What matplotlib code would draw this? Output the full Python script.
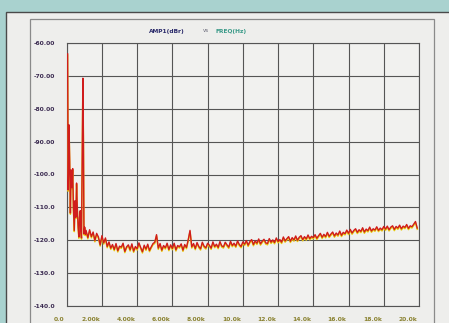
import numpy as np
import matplotlib
matplotlib.use("Agg")
import matplotlib.pyplot as plt
import matplotlib.transforms as mtransforms
from matplotlib.patches import Rectangle

# ---- data ----
# low-frequency part (kHz, dBr)
freq_low = [0.05, 0.065, 0.08, 0.10, 0.13, 0.17, 0.21, 0.25, 0.30, 0.34, 0.38,
            0.43, 0.47, 0.52, 0.56, 0.60, 0.65, 0.69, 0.73, 0.77, 0.80, 0.84,
            0.88, 0.92, 0.95, 0.98, 1.02, 1.06]
amp_low = [-63.3, -80.0, -104.7, -100.0, -84.9, -96.0, -111.7, -98.6, -104.0,
           -98.2, -110.0, -117.0, -108.0, -113.0, -102.6, -110.0, -116.0,
           -119.0, -113.0, -111.0, -117.0, -119.3, -95.0, -70.7, -90.0,
           -118.0, -116.0, -118.2]
# noise floor, sampled every 0.1 kHz starting at 1.1 kHz
amp_floor = [
    # 1.1 - 2.5 k
    -117.0, -119.2, -116.8, -118.9, -117.5, -120.1, -117.9, -119.0, -121.4, -118.6,
    -120.8, -119.3, -121.9, -120.5, -122.4,
    # 2.6 - 5.0 k
    -121.3, -122.8, -121.0, -123.2, -121.8, -122.1, -120.9, -123.4, -122.0, -121.4,
    -122.9, -121.1, -123.3, -121.9, -122.6, -120.8, -122.2, -123.5, -121.5, -122.7,
    -121.2, -123.1, -122.0, -121.0, -120.6,
    # 5.1 - 7.1 k
    -118.3, -122.4, -121.0, -123.0, -121.6, -122.3, -120.9, -122.8, -121.4, -122.5,
    -120.9, -122.9, -121.6, -122.0, -121.1, -123.0, -121.3, -122.2, -119.8, -117.0,
    -122.0,
    # 7.2 - 10.0 k
    -121.0, -122.5, -120.7, -121.9, -122.6, -120.6, -121.8, -122.3, -120.9, -121.5,
    -122.4, -120.5, -121.9, -121.2, -122.2, -120.4, -121.7, -122.0, -120.6, -121.4,
    -122.1, -120.3, -121.6, -120.9, -121.8, -120.2, -121.3, -121.9, -120.5,
    # 10.1 - 12.0 k
    -121.2, -120.1, -121.5, -120.4, -119.8, -121.3, -120.2, -120.9, -119.6, -121.1,
    -120.3, -119.7, -120.8, -121.0, -119.5, -120.6, -119.9, -120.7, -119.3, -120.4,
    # 12.1 - 14.0 k
    -119.8, -120.6, -119.0, -120.2, -119.5, -118.9, -120.3, -119.2, -119.9, -118.7,
    -120.0, -119.1, -118.6, -119.8, -118.9, -119.6, -118.4, -119.5, -118.8, -119.2,
    # 14.1 - 16.0 k
    -118.3, -119.4, -118.6, -117.9, -119.1, -118.2, -118.9, -117.6, -118.8, -118.1,
    -117.5, -118.7, -117.8, -118.4, -117.2, -118.5, -117.6, -118.0, -116.9, -117.9,
    # 16.1 - 18.0 k
    -116.7, -117.8, -117.0, -116.5, -117.6, -116.8, -117.3, -116.2, -117.5, -116.6,
    -117.1, -116.0, -117.2, -116.5, -116.9, -115.9, -117.0, -116.3, -116.8, -115.8,
    # 18.1 - 19.9 k
    -116.6, -115.7, -116.8, -116.0, -115.6, -116.7, -115.8, -116.3, -115.4, -116.5,
    -115.7, -116.1, -115.2, -116.4, -115.6, -115.9, -115.1, -114.3, -116.3,
]
freq_floor = list(np.round(1.1 + 0.1 * np.arange(len(amp_floor)), 2))

freq = np.array(freq_low + freq_floor)
amp = np.array(amp_low + amp_floor)

x_ticks = [0, 2, 4, 6, 8, 10, 12, 14, 16, 18, 20]
x_labels = ["0.0", "2.00k", "4.00k", "6.00k", "8.00k", "10.0k", "12.0k",
            "14.0k", "16.0k", "18.0k", "20.0k"]
y_ticks = [-60, -70, -80, -90, -100, -110, -120, -130, -140]
y_labels = ["-60.00", "-70.00", "-80.00", "-90.00", "-100.0", "-110.0",
            "-120.0", "-130.0", "-140.0"]

# ---- figure ----
W, H = 449, 323
fig = plt.figure(figsize=(W / 100, H / 100), dpi=100)
fig.patch.set_facecolor("#a9d2cf")

def fx(px):
    return px / W

def fy(py):
    return 1 - py / H

# outer light panel
fig.patches.append(Rectangle((fx(6), -0.05), 1.1, fy(12) + 0.05,
                             transform=fig.transFigure, facecolor="#eeeeec",
                             edgecolor="#4a4a4a", linewidth=1.0, zorder=-2))
# inner frame
fig.patches.append(Rectangle((fx(30), -0.05), fx(434) - fx(30), fy(19) + 0.05,
                             transform=fig.transFigure, facecolor="none",
                             edgecolor="#8a8a8a", linewidth=0.9, zorder=-1))

ax = fig.add_axes([fx(66.7), fy(306), fx(419) - fx(66.7), (306 - 43) / H])
ax.set_zorder(5)
ax.set_facecolor("#f1f1ef")
ax.set_xlim(0, 20)
ax.set_ylim(-140, -60)

ax.set_xticks(x_ticks)
ax.set_yticks(y_ticks)
ax.grid(True, color="#555555", linewidth=0.8)
ax.set_axisbelow(True)
for s in ax.spines.values():
    s.set_color("#555555")
    s.set_linewidth(0.8)
ax.tick_params(length=0)

ax.set_yticklabels(y_labels, fontsize=4.3, color="#3a2a50", fontweight="bold",
                   ha="left")
ax.tick_params(axis="y", pad=24)
ax.set_xticklabels(x_labels, fontsize=4.3, color="#8a8230", fontweight="bold",
                   ha="right")
ax.tick_params(axis="x", pad=8)
off = mtransforms.ScaledTranslation(-2 / 100, 0, fig.dpi_scale_trans)
for lab in ax.get_xticklabels():
    lab.set_transform(lab.get_transform() + off)

# yellow shadow trace, then red trace
shadow = ax.transData + mtransforms.ScaledTranslation(0.0, -1.2 / 100,
                                                      fig.dpi_scale_trans)
ax.plot(freq, amp, color="#e8cc10", linewidth=1.1, transform=shadow, zorder=3)
ax.plot(freq, amp, color="#d01c1c", linewidth=1.0, zorder=4)

# title texts
fig.text(fx(167), fy(31), "AMP1(dBr)", fontsize=4.2, color="#2a2a6a",
         fontweight="bold", ha="center", va="center")
fig.text(fx(206), fy(31), "vs", fontsize=4.0, color="#666677",
         ha="center", va="center")
fig.text(fx(231), fy(31), "FREQ(Hz)", fontsize=4.2, color="#3a9a88",
         fontweight="bold", ha="center", va="center")

fig.savefig("out.png", dpi=100, facecolor=fig.get_facecolor())
